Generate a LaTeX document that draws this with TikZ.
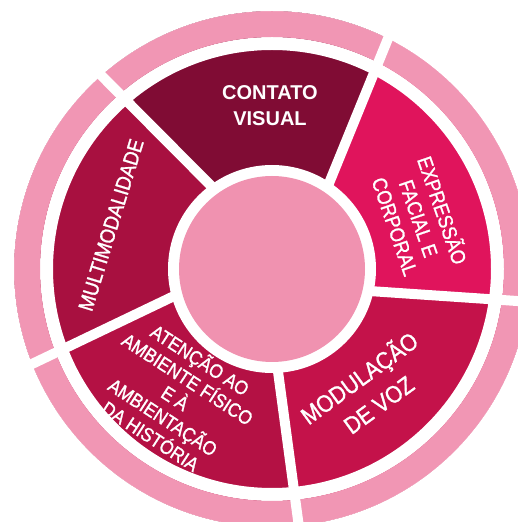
\documentclass[tikz,border=0pt]{standalone}
\usepackage{fontspec}
\setmainfont{Liberation Sans}
\newfontfamily\lblfont[FakeStretch=0.89, FakeBold=1.2]{Liberation Sans}
\definecolor{cContato}{RGB}{128,12,52}
\definecolor{cMulti}{RGB}{168,16,64}
\definecolor{cExpr}{RGB}{224,20,92}
\definecolor{cModul}{RGB}{196,18,74}
\definecolor{cAtenc}{RGB}{180,17,68}
\definecolor{cCenter}{RGB}{240,146,176}
\definecolor{cRing}{RGB}{241,150,180}
\tikzset{
  lbl/.style={text=white, align=center, inner sep=0pt},
  gap/.style={draw=white, line width=10pt},
}
% spoke angles: inner (r=95) and outer (r=265)
\def\aIi{125.5}\def\aIo{131.5}   % contato / multimodalidade
\def\aIIi{55.4}\def\aIIo{63.4}   % contato / expressao
\def\aIIIi{-13.2}\def\aIIIo{-7.2} % expressao / modulacao
\def\aIVi{-87}\def\aIVo{-84}     % modulacao / atencao
\def\aVi{194.7}\def\aVo{201.7}   % atencao / multimodalidade
\newcommand{\wedgeseg}[5]{% color, aA_in, aA_out, aB_in, aB_out
  \fill[#1] (#2:95pt) -- (#3:265pt) arc[start angle=#3, end angle=#5, radius=265pt]
    -- (#4:95pt) arc[start angle=#4, end angle=#2, radius=95pt] -- cycle;}
\begin{document}
\begin{tikzpicture}[x=1pt,y=1pt]
\useasboundingbox (0,0) rectangle (518,522);
\fill[white] (0,0) rectangle (518,522);
\begin{scope}[shift={(272,253)}]
  % segments
  \wedgeseg{cModul}{\aIVi}{\aIVo}{\aIIIi}{\aIIIo}
  \wedgeseg{cExpr}{\aIIIi}{\aIIIo}{\aIIi}{\aIIo}
  \wedgeseg{cContato}{\aIIi}{\aIIo}{\aIi}{\aIo}
  \wedgeseg{cMulti}{\aIi}{\aIo}{\aVi}{\aVo}
  \wedgeseg{cAtenc}{\aVi}{\aVo}{273}{276}
  % white gap between segments and outer ring
  \fill[white, even odd rule] (0,0) circle[radius=232pt] (0,0) circle[radius=219pt];
  % outer ring
  \fill[cRing, even odd rule] (0,0) circle[radius=258pt] (0,0) circle[radius=232pt];
  \fill[white, even odd rule] (0,0) circle[radius=290pt] (0,0) circle[radius=258pt];
  % spokes
  \draw[gap] (\aIi:95pt) -- (\aIo:265pt);
  \draw[gap] (\aIIi:95pt) -- (\aIIo:265pt);
  \draw[gap] (\aIIIi:95pt) -- (\aIIIo:265pt);
  \draw[gap] (\aIVi:95pt) -- (\aIVo:265pt);
  \draw[gap] (\aVi:95pt) -- (\aVo:265pt);
  % center
  \fill[white] (0,0) circle[radius=104pt];
  \fill[cCenter] (0,0) circle[radius=93pt];
\end{scope}
\node[lbl, font=\bfseries\fontsize{20}{26}\selectfont] (contato) at (270,416) {CONTATO\\VISUAL};
\node[lbl, rotate=73, font=\lblfont\fontsize{21}{24}\selectfont] (multi) at (111,297) {MULTIMODALIDADE};
\node[lbl, rotate=-71, font=\lblfont\fontsize{20.5}{25}\selectfont] (expr) at (420,304) {EXPRESSÃO\\FACIAL E\\CORPORAL};
\node[lbl, rotate=36, font=\lblfont\fontsize{24}{33}\selectfont] (modul) at (368,132) {MODULAÇÃO\\DE VOZ};
\node[lbl, rotate=-33, font=\lblfont\fontsize{19.5}{22.7}\selectfont] (atenc) at (176,125) {ATENÇÃO AO\\AMBIENTE FÍSICO\\E À\\AMBIENTAÇÃO\\DA HISTÓRIA};
\end{tikzpicture}
\end{document}
